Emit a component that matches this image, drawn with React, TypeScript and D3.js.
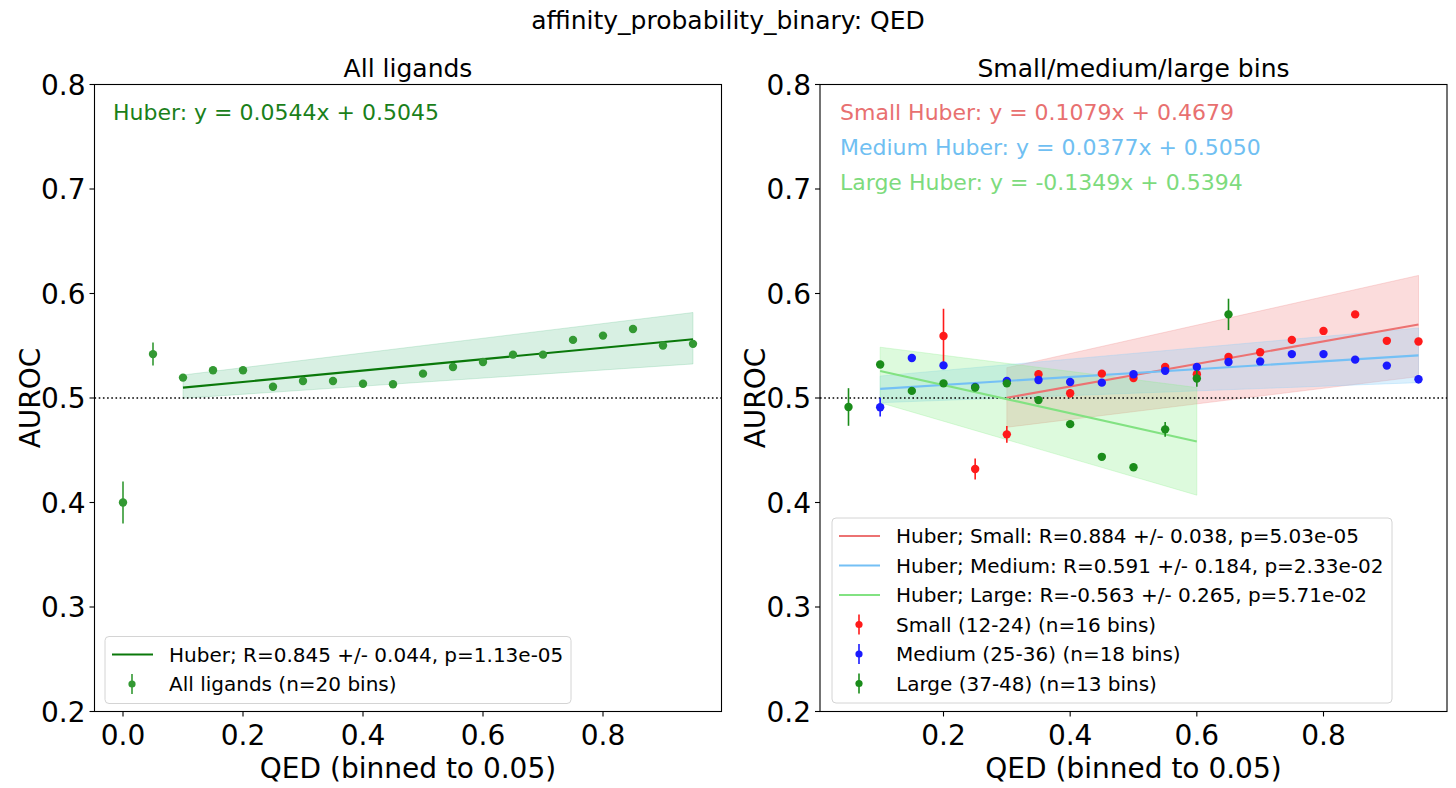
import * as d3 from "d3";

// ---- data ----
const qedAll = [0, 0.05, 0.1, 0.15, 0.2, 0.25, 0.3, 0.35, 0.4, 0.45, 0.5, 0.55, 0.6, 0.65, 0.7, 0.75, 0.8, 0.85, 0.9, 0.95];
const aurocAll = [0.4, 0.542, 0.5195, 0.5266, 0.5266, 0.5108, 0.5163, 0.5163, 0.5137, 0.5131, 0.5233, 0.5297, 0.5345, 0.5415, 0.5415, 0.5556, 0.5597, 0.5661, 0.5502, 0.5518];
const errAll = [0.02, 0.011, 0.003, 0.002, 0.002, 0.002, 0.002, 0.002, 0.002, 0.002, 0.002, 0.002, 0.002, 0.002, 0.002, 0.002, 0.002, 0.002, 0.002, 0.002];

const qedSmall = [0.2, 0.25, 0.3, 0.35, 0.4, 0.45, 0.5, 0.55, 0.6, 0.65, 0.7, 0.75, 0.8, 0.85, 0.9, 0.95];
const aurocSmall = [0.5594, 0.432, 0.4652, 0.5227, 0.5045, 0.5233, 0.5192, 0.5297, 0.5227, 0.5393, 0.5438, 0.5556, 0.5642, 0.58, 0.5547, 0.554];
const errSmall = [0.026, 0.01, 0.008, 0.004, 0.004, 0.002, 0.002, 0.002, 0.002, 0.002, 0.002, 0.002, 0.002, 0.002, 0.002, 0.002];

const qedMedium = [0.1, 0.15, 0.2, 0.25, 0.3, 0.35, 0.4, 0.45, 0.5, 0.55, 0.6, 0.65, 0.7, 0.75, 0.8, 0.85, 0.9, 0.95];
const aurocMedium = [0.4912, 0.5383, 0.5312, 0.5105, 0.5163, 0.5172, 0.5153, 0.5147, 0.5227, 0.526, 0.5297, 0.5345, 0.535, 0.542, 0.542, 0.5367, 0.531, 0.518];
const errMedium = [0.009, 0.002, 0.002, 0.002, 0.002, 0.002, 0.002, 0.002, 0.002, 0.002, 0.002, 0.002, 0.002, 0.002, 0.002, 0.002, 0.002, 0.004];

const qedLarge = [0.05, 0.1, 0.15, 0.2, 0.25, 0.3, 0.35, 0.4, 0.45, 0.5, 0.55, 0.6, 0.65];
const aurocLarge = [0.4914, 0.532, 0.5068, 0.514, 0.51, 0.514, 0.498, 0.475, 0.4437, 0.4337, 0.47, 0.5187, 0.58];
const errLarge = [0.018, 0.003, 0.002, 0.002, 0.002, 0.002, 0.003, 0.002, 0.003, 0.003, 0.007, 0.008, 0.015];

// Huber fits: slope, intercept, fitted range, band edges at range ends
const fitAll = { slope: 0.0544, intercept: 0.5045, range: [0.1, 0.95], lo: [0.4997, 0.5326], hi: [0.522, 0.5818] };
const fitSmall = { slope: 0.1079, intercept: 0.4679, range: [0.3, 0.95], lo: [0.472, 0.5205], hi: [0.529, 0.6173] };
const fitMedium = { slope: 0.0377, intercept: 0.505, range: [0.1, 0.95], lo: [0.4955, 0.5147], hi: [0.521, 0.567] };
const fitLarge = { slope: -0.1349, intercept: 0.5394, range: [0.1, 0.6], lo: [0.4955, 0.407], hi: [0.5486, 0.51] };

const yTicks = [0.2, 0.3, 0.4, 0.5, 0.6, 0.7, 0.8];
const xTicksLeft = [0, 0.2, 0.4, 0.6, 0.8];
const xTicksRight = [0.2, 0.4, 0.6, 0.8];

const FONT = "DejaVu Sans, Liberation Sans, sans-serif";
const W = 1456;
const H = 788;
const top = 84.5;
const bottom = 711.5;

const yScale = d3.scaleLinear().domain([0.2, 0.8]).range([bottom, top]);

const fmt = d3.format(".1f");

function Axes({ x0, x1, xDomain, xTicks, title, ylabelX }) {
  const xScale = d3.scaleLinear().domain(xDomain).range([x0, x1]);
  return (
    <g>
      <rect x={x0} y={top} width={x1 - x0} height={bottom - top} fill="none" stroke="#000" strokeWidth={1.1} />
      {yTicks.map((t) => (
        <g key={"y" + t}>
          <line x1={x0 - 5} x2={x0} y1={yScale(t)} y2={yScale(t)} stroke="#000" strokeWidth={1.1} />
          <text x={x0 - 9} y={yScale(t) + 10} textAnchor="end" fontSize={28}>{fmt(t)}</text>
        </g>
      ))}
      {xTicks.map((t) => (
        <g key={"x" + t}>
          <line x1={xScale(t)} x2={xScale(t)} y1={bottom} y2={bottom + 5} stroke="#000" strokeWidth={1.1} />
          <text x={xScale(t)} y={745} textAnchor="middle" fontSize={28}>{fmt(t)}</text>
        </g>
      ))}
      <text x={(x0 + x1) / 2} y={778} textAnchor="middle" fontSize={28}>QED (binned to 0.05)</text>
      <text transform={`translate(${ylabelX},${(top + bottom) / 2}) rotate(-90)`} textAnchor="middle" fontSize={28}>AUROC</text>
      <text x={(x0 + x1) / 2} y={77} textAnchor="middle" fontSize={25}>{title}</text>
    </g>
  );
}

function Band({ fit, xScale, color, opacity }) {
  const pts = fit.range.map((q, i) => ({ q, lo: fit.lo[i], hi: fit.hi[i] }));
  const area = d3.area().x((d) => xScale(d.q)).y0((d) => yScale(d.lo)).y1((d) => yScale(d.hi));
  return <path d={area(pts)} fill={color} fillOpacity={opacity} stroke={color} strokeOpacity={opacity} strokeWidth={1} />;
}

function FitLine({ fit, xScale, color }) {
  const line = d3.line().x((q) => xScale(q)).y((q) => yScale(fit.slope * q + fit.intercept));
  return <path d={line(fit.range)} fill="none" stroke={color} strokeWidth={2.1} />;
}

function Points({ qed, auroc, err, xScale, color }) {
  return (
    <g>
      {qed.map((q, i) => (
        <g key={i}>
          <line x1={xScale(q)} x2={xScale(q)} y1={yScale(auroc[i] - err[i])} y2={yScale(auroc[i] + err[i])} stroke={color} strokeWidth={1.6} />
          <circle cx={xScale(q)} cy={yScale(auroc[i])} r={4.2} fill={color} />
        </g>
      ))}
    </g>
  );
}

function Chance({ x0, x1 }) {
  return <line x1={x0} x2={x1} y1={yScale(0.5)} y2={yScale(0.5)} stroke="#000" strokeWidth={1.6} strokeDasharray="1.6 2.6" />;
}

function Legend({ x, y, w, rows }) {
  const rowH = 29.5;
  const h = rows.length * rowH + 8;
  return (
    <g>
      <rect x={x} y={y} width={w} height={h} rx={4} fill="#fff" fillOpacity={0.8} stroke="#d4d4d4" strokeWidth={1} />
      {rows.map((r, i) => {
        const cy = y + 18 + i * rowH;
        return (
          <g key={i}>
            {r.kind === "line" ? (
              <line x1={x + 7} x2={x + 48} y1={cy} y2={cy} stroke={r.color} strokeWidth={2.1} />
            ) : (
              <g>
                <line x1={x + 27} x2={x + 27} y1={cy - 10} y2={cy + 10} stroke={r.color} strokeWidth={1.6} />
                <circle cx={x + 27} cy={cy} r={3.6} fill={r.color} />
              </g>
            )}
            <text x={x + 64} y={cy + 7} fontSize={20}>{r.label}</text>
          </g>
        );
      })}
    </g>
  );
}

const App = () => {
  const lx0 = 94.5, lx1 = 721.5;
  const rx0 = 820, rx1 = 1447;
  const xLeft = d3.scaleLinear().domain([-0.0475, 0.9975]).range([lx0, lx1]);
  const xRight = d3.scaleLinear().domain([0.005, 0.995]).range([rx0, rx1]);

  const cSmallLine = "#ec7272";
  const cMediumLine = "#74c0f5";
  const cLargeLine = "#82e282";

  return (
    <svg width={W} height={H} style={{ position: "absolute", left: 0, top: 0, background: "#fff" }} fontFamily={FONT}>
      <rect width={W} height={H} fill="#fff" />
      <text x={W / 2} y={29} textAnchor="middle" fontSize={25}>affinity_probability_binary: QED</text>

      {/* left panel */}
      <Band fit={fitAll} xScale={xLeft} color="#3cb371" opacity={0.2} />
      <Chance x0={lx0} x1={lx1} />
      <FitLine fit={fitAll} xScale={xLeft} color="#0a780a" />
      <Points qed={qedAll} auroc={aurocAll} err={errAll} xScale={xLeft} color="#339933" />
      <text x={113} y={120} fontSize={22} fill="#1a801a">Huber: y = 0.0544x + 0.5045</text>
      <Legend x={105} y={636.5} w={466} rows={[
        { kind: "line", color: "#0a780a", label: "Huber; R=0.845 +/- 0.044, p=1.13e-05" },
        { kind: "err", color: "#339933", label: "All ligands (n=20 bins)" },
      ]} />
      <Axes x0={lx0} x1={lx1} xDomain={[-0.0475, 0.9975]} xTicks={xTicksLeft} title="All ligands" ylabelX={40} />

      {/* right panel */}
      <Band fit={fitSmall} xScale={xRight} color="#f08080" opacity={0.28} />
      <Band fit={fitMedium} xScale={xRight} color="#87cefa" opacity={0.3} />
      <Band fit={fitLarge} xScale={xRight} color="#90ee90" opacity={0.3} />
      <Chance x0={rx0} x1={rx1} />
      <FitLine fit={fitSmall} xScale={xRight} color={cSmallLine} />
      <FitLine fit={fitMedium} xScale={xRight} color={cMediumLine} />
      <FitLine fit={fitLarge} xScale={xRight} color={cLargeLine} />
      <Points qed={qedSmall} auroc={aurocSmall} err={errSmall} xScale={xRight} color="#ff1a1a" />
      <Points qed={qedMedium} auroc={aurocMedium} err={errMedium} xScale={xRight} color="#1a1aff" />
      <Points qed={qedLarge} auroc={aurocLarge} err={errLarge} xScale={xRight} color="#1a8c1a" />
      <text x={840} y={120} fontSize={22} fill="#e87070">Small Huber: y = 0.1079x + 0.4679</text>
      <text x={840} y={155} fontSize={22} fill="#70bff2">Medium Huber: y = 0.0377x + 0.5050</text>
      <text x={840} y={190} fontSize={22} fill="#7ddb7d">Large Huber: y = -0.1349x + 0.5394</text>
      <Legend x={832} y={518} w={560} rows={[
        { kind: "line", color: cSmallLine, label: "Huber; Small: R=0.884 +/- 0.038, p=5.03e-05" },
        { kind: "line", color: cMediumLine, label: "Huber; Medium: R=0.591 +/- 0.184, p=2.33e-02" },
        { kind: "line", color: cLargeLine, label: "Huber; Large: R=-0.563 +/- 0.265, p=5.71e-02" },
        { kind: "err", color: "#ff1a1a", label: "Small (12-24) (n=16 bins)" },
        { kind: "err", color: "#1a1aff", label: "Medium (25-36) (n=18 bins)" },
        { kind: "err", color: "#1a8c1a", label: "Large (37-48) (n=13 bins)" },
      ]} />
      <Axes x0={rx0} x1={rx1} xDomain={[0.005, 0.995]} xTicks={xTicksRight} title="Small/medium/large bins" ylabelX={765} />
    </svg>
  );
};

export default App;
